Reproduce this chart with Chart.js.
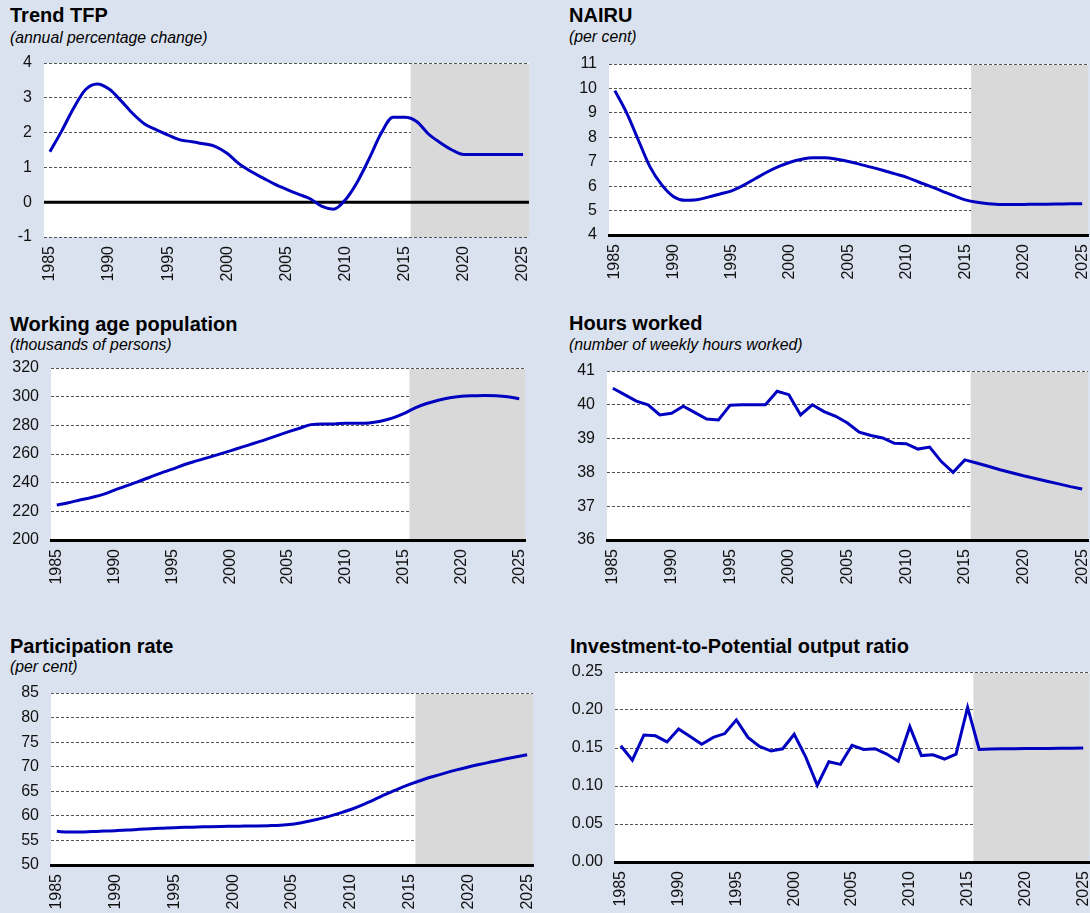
<!DOCTYPE html>
<html>
<head>
<meta charset="utf-8">
<script src="https://cdn.jsdelivr.net/npm/chart.js@4.4.1/dist/chart.umd.min.js"></script>
<style>
  body {
    margin: 0;
    width: 1090px;
    height: 913px;
    position: relative;
    overflow: hidden;
    background: #dbe2ef;
    font-family: "Liberation Sans", Arial, sans-serif;
    color: #000;
  }
  .title { position: absolute; font-weight: bold; font-size: 20px; line-height: 24px; white-space: nowrap; }
  .sub { position: absolute; font-style: italic; font-size: 15.8px; line-height: 18px; white-space: nowrap; }
  canvas { position: absolute; }
</style>
</head>
<body>

<div class="title" style="left:10px;top:3px">Trend TFP</div>
<div class="sub" style="left:10px;top:29px">(annual percentage change)</div>
<canvas id="tfpChart" width="535" height="245" style="left:0;top:50px"></canvas>

<div class="title" style="left:569px;top:3px">NAIRU</div>
<div class="sub" style="left:569px;top:28px">(per cent)</div>
<canvas id="nairuChart" width="545" height="245" style="left:545px;top:50px"></canvas>

<div class="title" style="left:10px;top:312px">Working age population</div>
<div class="sub" style="left:10px;top:336px">(thousands of persons)</div>
<canvas id="popChart" width="535" height="245" style="left:0;top:355px"></canvas>

<div class="title" style="left:569px;top:311px">Hours worked</div>
<div class="sub" style="left:569px;top:336px">(number of weekly hours worked)</div>
<canvas id="hoursChart" width="545" height="245" style="left:545px;top:355px"></canvas>

<div class="title" style="left:10px;top:634px">Participation rate</div>
<div class="sub" style="left:10px;top:658px">(per cent)</div>
<canvas id="partChart" width="540" height="233" style="left:0;top:680px"></canvas>

<div class="title" style="left:570px;top:634px">Investment-to-Potential output ratio</div>
<canvas id="invChart" width="545" height="253" style="left:545px;top:660px"></canvas>

<script>
// Data
const years = ['1985', '1986', '1987', '1988', '1989', '1990', '1991', '1992', '1993', '1994',
               '1995', '1996', '1997', '1998', '1999', '2000', '2001', '2002', '2003', '2004',
               '2005', '2006', '2007', '2008', '2009', '2010', '2011', '2012', '2013', '2014',
               '2015', '2016', '2017', '2018', '2019', '2020', '2021', '2022', '2023', '2024', '2025'];
const yearTicks = ['1985', '1990', '1995', '2000', '2005', '2010', '2015', '2020', '2025'];
const forecastStart = '2016';

const trendTfp = [1.45, 2.05, 2.7, 3.23, 3.4, 3.25, 2.92, 2.55, 2.25, 2.08,
                  1.93, 1.79, 1.74, 1.68, 1.6, 1.4, 1.1, 0.88, 0.7, 0.52,
                  0.37, 0.23, 0.1, -0.12, -0.2, 0.08, 0.59, 1.26, 1.98, 2.44,
                  2.44, 2.32, 1.96, 1.71, 1.5, 1.37, 1.37, 1.37, 1.37, 1.37, 1.37];
const nairu = [9.91, 9.01, 7.9, 6.8, 6.06, 5.58, 5.42, 5.44, 5.55, 5.68,
               5.81, 6.03, 6.3, 6.57, 6.8, 6.98, 7.1, 7.16, 7.16, 7.1,
               7.01, 6.89, 6.77, 6.64, 6.5, 6.36, 6.17, 5.99, 5.8, 5.61,
               5.44, 5.34, 5.28, 5.25, 5.25, 5.25, 5.26, 5.26, 5.27, 5.28, 5.28];
const workingAgePop = [224.4, 226, 227.9, 229.7, 231.8, 234.8, 237.8, 240.6, 243.6, 246.7,
                       249.4, 252.5, 255, 257.3, 259.7, 262.2, 264.8, 267.3, 269.9, 272.7,
                       275.4, 278, 280.5, 281, 281, 281.5, 281.5, 281.7, 282.9, 285,
                       288.2, 292.2, 295.2, 297.5, 299.3, 300.3, 300.7, 300.9, 300.7, 300, 298.6];
const hoursWorked = [40.49, 40.3, 40.11, 40.0, 39.7, 39.75, 39.96, 39.77, 39.58, 39.55,
                     39.99, 40, 40, 40, 40.4, 40.3, 39.7, 40, 39.8, 39.66,
                     39.46, 39.19, 39.09, 39.02, 38.86, 38.85, 38.69, 38.75, 38.32, 38.0,
                     38.37, 38.28, 38.18, 38.08, 37.99, 37.9, 37.82, 37.74, 37.66, 37.58, 37.51];
const participation = [56.85, 56.7, 56.7, 56.8, 56.9, 56.99, 57.1, 57.26, 57.4, 57.5,
                       57.6, 57.67, 57.73, 57.8, 57.85, 57.88, 57.92, 57.95, 58.0, 58.08,
                       58.3, 58.7, 59.2, 59.8, 60.5, 61.3, 62.25, 63.3, 64.4, 65.45,
                       66.4, 67.25, 68.0, 68.7, 69.35, 69.95, 70.5, 71.0, 71.5, 71.98, 72.45];
const investmentRatio = [0.153, 0.134, 0.167, 0.166, 0.158, 0.175, 0.165, 0.155, 0.164, 0.169,
                         0.187, 0.164, 0.152, 0.146, 0.149, 0.168, 0.138, 0.101, 0.132, 0.1285,
                         0.1535, 0.148, 0.149, 0.142, 0.1325, 0.178, 0.14, 0.141, 0.1355, 0.142,
                         0.2035, 0.148, 0.1487, 0.149, 0.149, 0.1492, 0.1494, 0.1495, 0.1497, 0.1498, 0.150];

const lineColor = '#0000c0';
const tickFont = { family: '"Liberation Sans", Arial, sans-serif', size: 16 };

// white plot background, grey forecast band, optional zero line
const panelPlugin = {
    id: 'panel',
    beforeDraw(chart) {
        const { ctx, chartArea: a } = chart;
        ctx.save();
        ctx.fillStyle = '#ffffff';
        ctx.fillRect(a.left, a.top, a.right - a.left, a.bottom - a.top);
        ctx.restore();
    },
    beforeDatasetsDraw(chart, args, opts) {
        const { ctx, chartArea: a, scales } = chart;
        const i = years.indexOf(forecastStart);
        const xs = (scales.x.getPixelForValue(i - 1) + scales.x.getPixelForValue(i)) / 2;
        ctx.save();
        ctx.fillStyle = '#d9d9d9';
        ctx.fillRect(xs, a.top + 1, a.right - xs, a.bottom - a.top - 1);
        if (opts.zeroLine) {
            const y0 = scales.y.getPixelForValue(0);
            ctx.strokeStyle = '#000';
            ctx.lineWidth = 3;
            ctx.beginPath();
            ctx.moveTo(a.left, y0);
            ctx.lineTo(a.right, y0);
            ctx.stroke();
        }
        ctx.restore();
    }
};

function makeChart(id, values, cfg) {
    new Chart(document.getElementById(id), {
        type: 'line',
        data: {
            labels: years,
            datasets: [{
                data: values,
                borderColor: lineColor,
                borderWidth: 3,
                pointRadius: 0,
                fill: false,
                cubicInterpolationMode: cfg.smooth ? 'monotone' : 'default',
                tension: 0
            }]
        },
        options: {
            responsive: false,
            animation: false,
            layout: { padding: { top: cfg.padTop, right: cfg.padRight, left: 0, bottom: 0 } },
            plugins: {
                legend: { display: false },
                tooltip: { enabled: false },
                panel: { zeroLine: !!cfg.zeroLine }
            },
            scales: {
                x: {
                    offset: true,
                    grid: { display: false, drawTicks: false },
                    border: { display: !cfg.zeroLine, color: '#000', width: 3, z: 1 },
                    ticks: {
                        autoSkip: false,
                        minRotation: 90,
                        maxRotation: 90,
                        padding: 9,
                        color: '#111',
                        font: tickFont,
                        callback: function(v) {
                            const l = this.getLabelForValue(v);
                            return yearTicks.includes(l) ? l : '';
                        }
                    },
                    afterFit(s) {
                        s.height = cfg.xHeight;
                        s.paddingLeft = 0;
                        s.paddingRight = 0;
                    }
                },
                y: {
                    min: cfg.min,
                    max: cfg.max,
                    grid: { color: '#555', lineWidth: 1, drawTicks: false },
                    border: { display: false, dash: [3, 2] },
                    ticks: {
                        stepSize: cfg.step,
                        padding: 12,
                        color: '#111',
                        font: tickFont,
                        callback: cfg.fmt || (v => v)
                    },
                    afterFit(s) {
                        s.width = cfg.yWidth;
                        s.paddingTop = 0;
                        s.paddingBottom = 0;
                    }
                }
            }
        },
        plugins: [panelPlugin]
    });
}

makeChart('tfpChart', trendTfp, { min: -1, max: 4, step: 1, smooth: true, zeroLine: true,
    yWidth: 44, xHeight: 58, padTop: 13, padRight: 6 });
makeChart('nairuChart', nairu, { min: 4, max: 11, step: 1, smooth: true,
    yWidth: 64, xHeight: 60, padTop: 14, padRight: 2 });
makeChart('popChart', workingAgePop, { min: 200, max: 320, step: 20, smooth: true,
    yWidth: 51, xHeight: 60, padTop: 13, padRight: 10 });
makeChart('hoursChart', hoursWorked, { min: 36, max: 41, step: 1, smooth: false,
    yWidth: 62, xHeight: 60, padTop: 16, padRight: 2 });
makeChart('partChart', participation, { min: 50, max: 85, step: 5, smooth: true,
    yWidth: 51, xHeight: 48, padTop: 13, padRight: 7 });
makeChart('invChart', investmentRatio, { min: 0, max: 0.25, step: 0.05, smooth: false,
    yWidth: 70, xHeight: 51, padTop: 12, padRight: 1, fmt: v => v.toFixed(2) });
</script>
</body>
</html>
